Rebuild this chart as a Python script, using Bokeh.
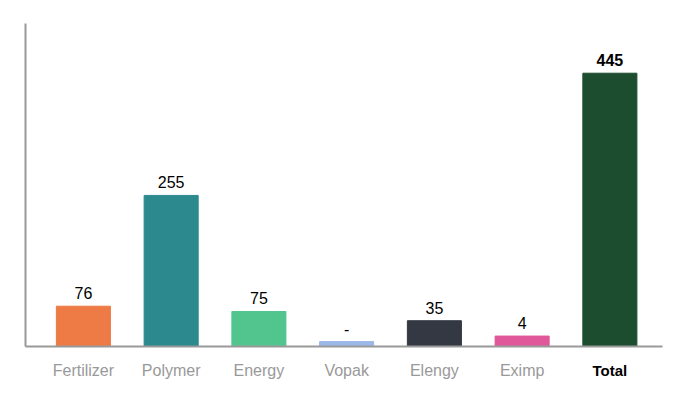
from bokeh.plotting import figure
from bokeh.models import ColumnDataSource, Range1d
from bokeh.core.properties import value
from bokeh.embed import file_html
from bokeh.resources import INLINE

# Data
categories = ["Fertilizer", "Polymer", "Energy", "Vopak", "Elengy", "Eximp", "Total"]
bar_values = [65.6, 246, 57, 8, 42, 17, 445]          # plotted bar heights (as drawn)
value_labels = ["76", "255", "75", "-", "35", "4", "445"]
colors = ["#EE7A45", "#2C8A8F", "#52C58F", "#9AB8E8", "#333842", "#E0589A", "#1C4D2F"]
cat_colors = ["#999999"] * 6 + ["#000000"]
cat_styles = ["normal"] * 6 + ["bold"]
cat_sizes = ["16px"] * 6 + ["15px"]
val_styles = ["normal"] * 6 + ["bold"]

# axis extents (data units)
X_AXIS_START, X_AXIS_END = -0.66, 6.6
Y_AXIS_TOP = 526

xs = list(range(len(categories)))
zeros = [0] * len(categories)

src = ColumnDataSource(dict(x=xs, top=bar_values, lab=value_labels, color=colors,
                            cat=categories, cat_color=cat_colors, cat_style=cat_styles,
                            cat_size=cat_sizes, val_style=val_styles, zero=zeros))

p = figure(output_backend="svg", toolbar_location=None,
           frame_width=645, frame_height=367,
           min_border_left=20, min_border_top=18, min_border_right=10, min_border_bottom=4,
           x_range=Range1d(-0.717, 6.634), y_range=Range1d(-63.5, 534.1))
p.axis.visible = False
p.xgrid.grid_line_color = None
p.ygrid.grid_line_color = None
p.outline_line_color = None

p.vbar(x="x", top="top", bottom=0, width=0.616, color="color", source=src)

# axis lines
p.segment(x0=[X_AXIS_START], y0=[0], x1=[X_AXIS_END], y1=[0], line_color="#999999", line_width=2)
p.segment(x0=[X_AXIS_START], y0=[0], x1=[X_AXIS_START], y1=[Y_AXIS_TOP], line_color="#999999", line_width=2)

# value labels
p.text(x="x", y="top", text="lab", source=src, y_offset=-13,
       text_align="center", text_baseline="alphabetic",
       text_font=value("Liberation Sans"), text_font_size="16px",
       text_font_style="val_style", text_color="#000000")

# category labels
p.text(x="x", y="zero", text="cat", source=src, y_offset=23.5,
       text_align="center", text_baseline="alphabetic",
       text_font=value("Liberation Sans"), text_font_size="cat_size",
       text_font_style="cat_style", text_color="cat_color")

open("out.html", "w").write(file_html(p, INLINE))
